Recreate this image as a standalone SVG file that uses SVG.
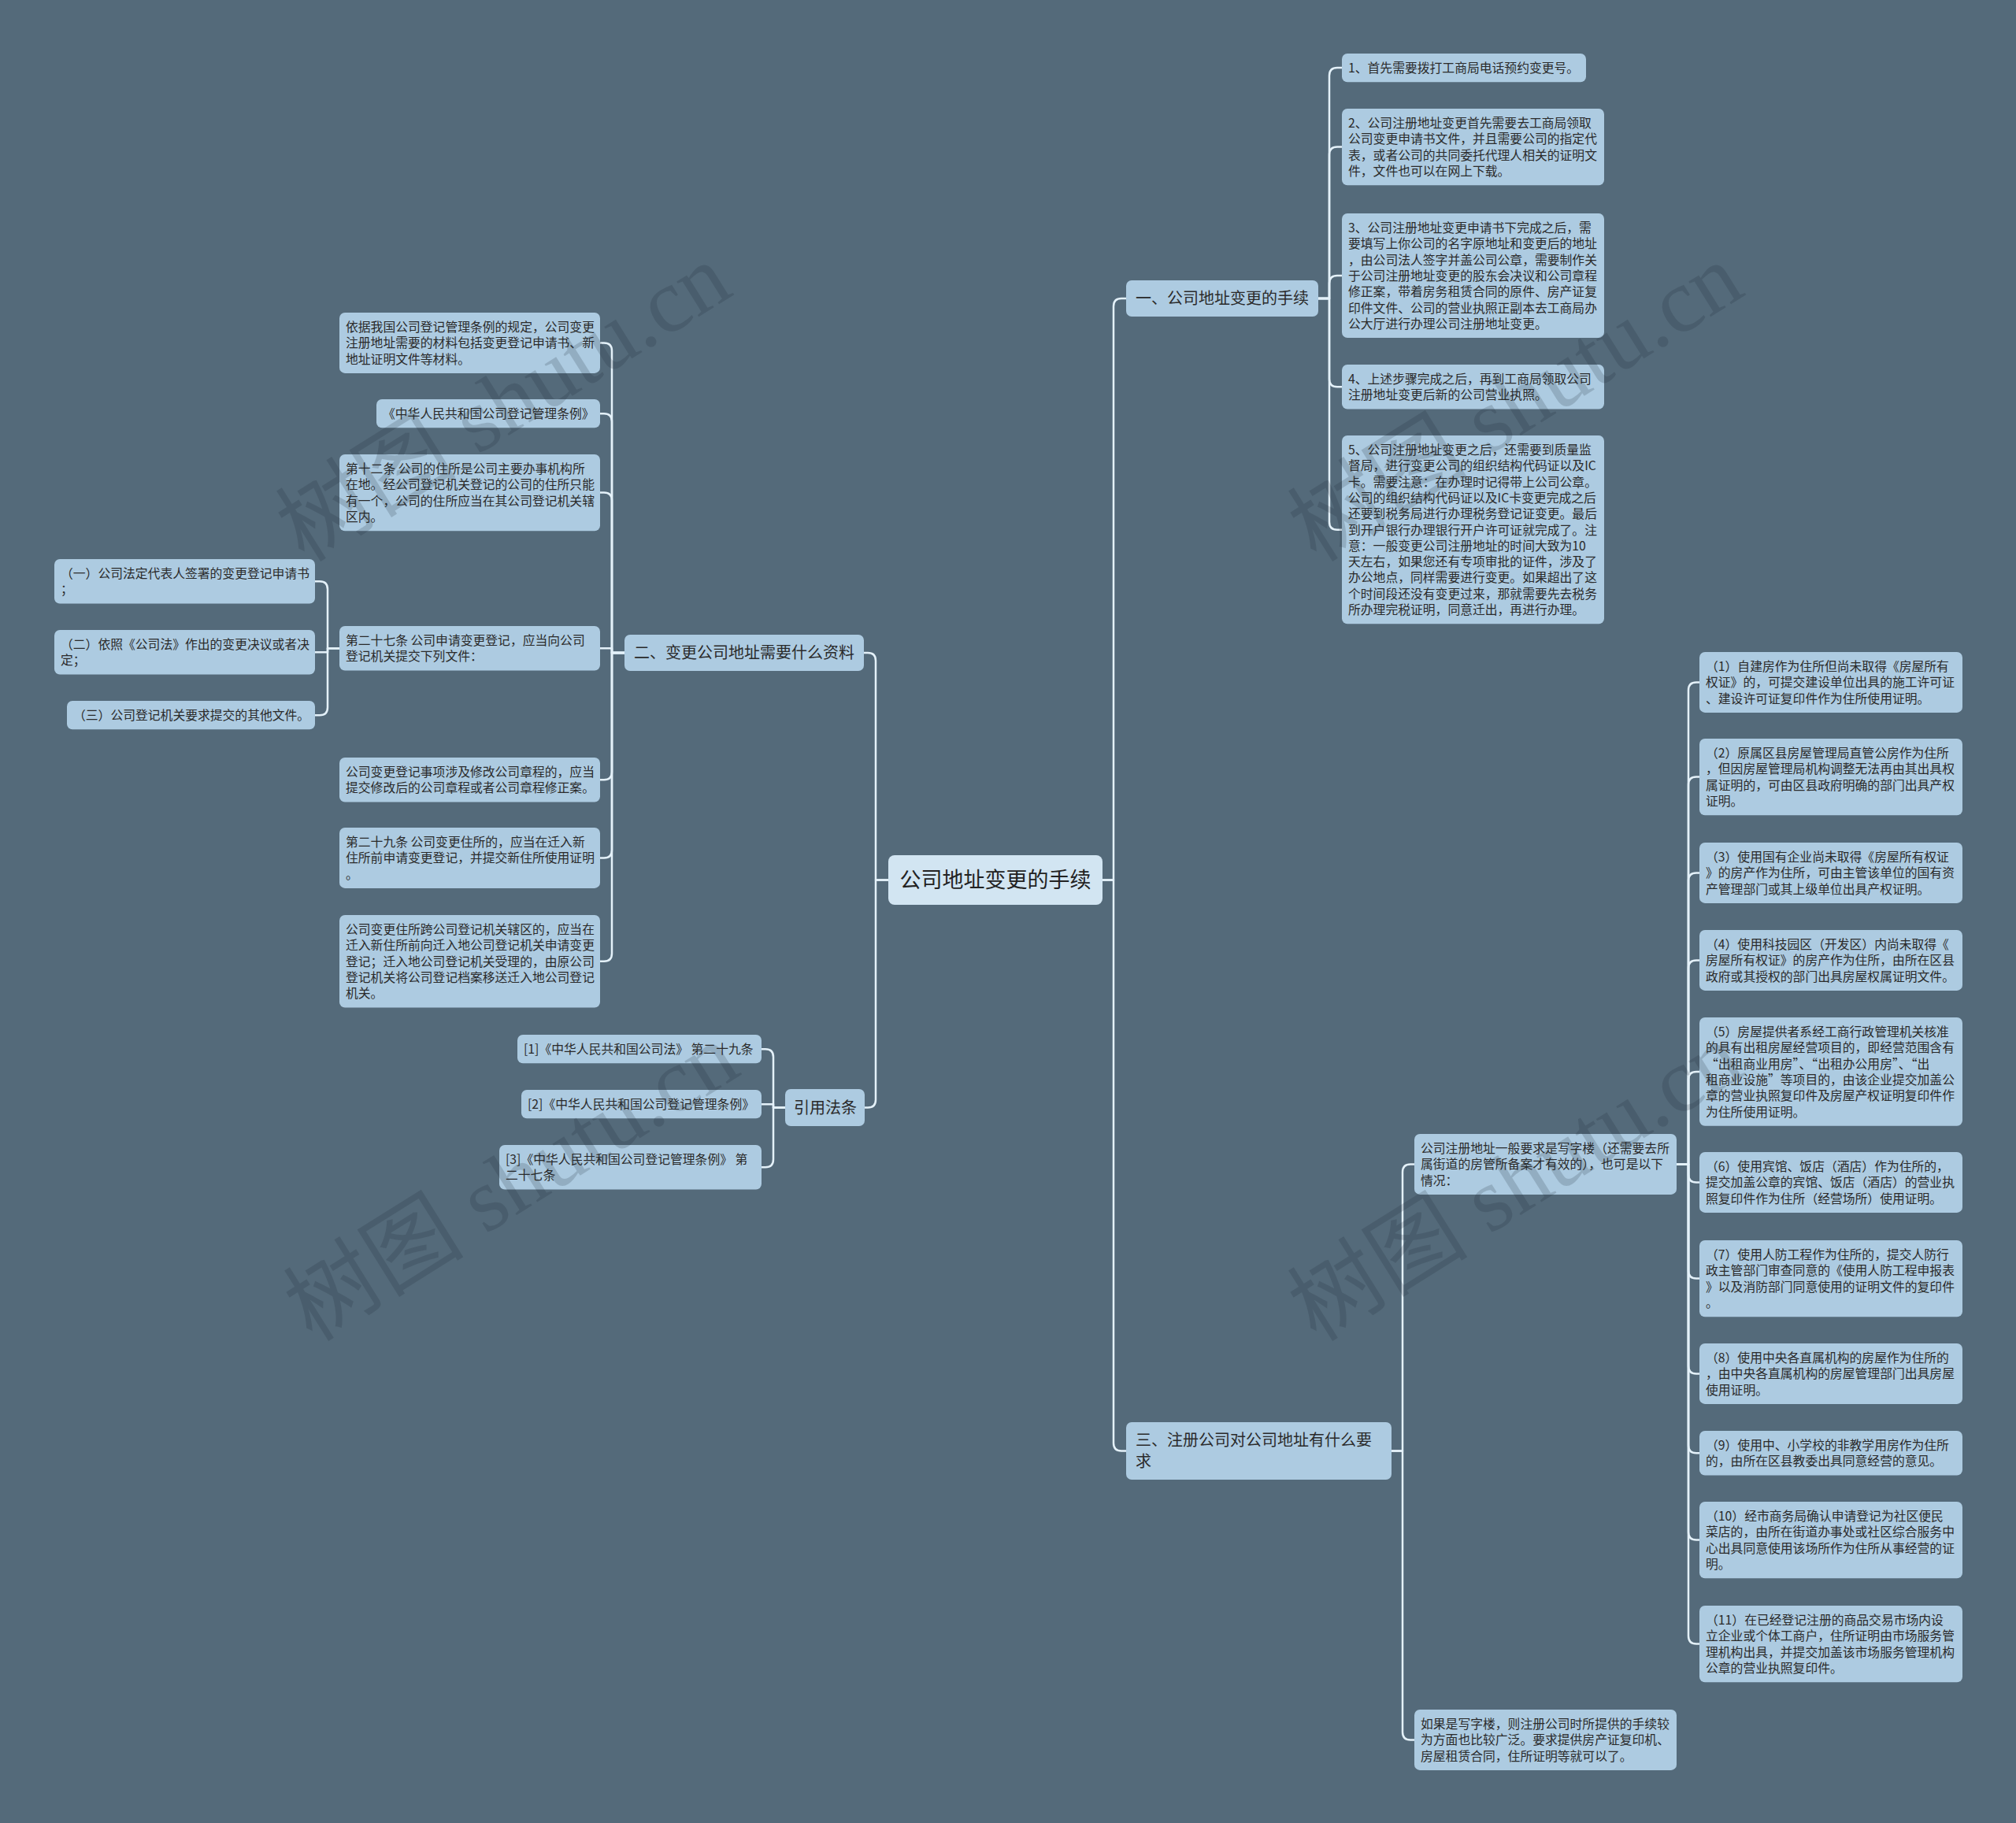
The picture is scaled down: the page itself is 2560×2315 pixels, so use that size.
<svg xmlns="http://www.w3.org/2000/svg" width="2560" height="2315" viewBox="0 0 2560 2315">
<style>
.bg{fill:#546a7a}
.box{fill:#adcbe1}
.root{fill:#d2e5f2}
.t{font-family:"Noto Sans CJK SC","Liberation Sans",sans-serif;font-size:15.8px;fill:#2a2a2a}
.tb{font-family:"Noto Sans CJK SC","Liberation Sans",sans-serif;font-size:20px;fill:#2a2a2a}
.tr{font-family:"Noto Sans CJK SC","Liberation Sans",sans-serif;font-size:27px;fill:#222}
.ln{fill:none;stroke:#e4f1f9;stroke-width:2.5;stroke-linejoin:round}
.wm{font-family:"Liberation Serif","Noto Sans CJK SC",serif;font-size:115px;fill:#1c2832;fill-opacity:0.18}
</style>
<rect class="bg" x="0" y="0" width="2560" height="2315"/>
<g id="connectors">
<path class="ln" d="M1400 1117.5 H1414 V389 Q1414 379 1424 379 H1430"/>
<path class="ln" d="M1400 1117.5 H1414 V1832.5 Q1414 1842.5 1424 1842.5 H1430"/>
<path class="ln" d="M1128 1117.5 H1112 V839 Q1112 829 1102 829 H1097"/>
<path class="ln" d="M1128 1117.5 H1112 V1396.5 Q1112 1406.5 1102 1406.5 H1098"/>
<path class="ln" d="M1674 379 H1688 V96 Q1688 86 1698 86 H1704"/>
<path class="ln" d="M1674 379 H1688 V196.6 Q1688 186.6 1698 186.6 H1704"/>
<path class="ln" d="M1674 379 H1688 V360 Q1688 350 1698 350 H1704"/>
<path class="ln" d="M1674 379 H1688 V481.3 Q1688 491.3 1698 491.3 H1704"/>
<path class="ln" d="M1674 379 H1688 V662.7 Q1688 672.7 1698 672.7 H1704"/>
<path class="ln" d="M1767 1842.5 H1781 V1488.5 Q1781 1478.5 1791 1478.5 H1796"/>
<path class="ln" d="M1767 1842.5 H1781 V2199.5 Q1781 2209.5 1791 2209.5 H1796"/>
<path class="ln" d="M2129 1478.5 H2144 V876.5 Q2144 866.5 2154 866.5 H2158"/>
<path class="ln" d="M2129 1478.5 H2144 V996.6 Q2144 986.6 2154 986.6 H2158"/>
<path class="ln" d="M2129 1478.5 H2144 V1118.5 Q2144 1108.5 2154 1108.5 H2158"/>
<path class="ln" d="M2129 1478.5 H2144 V1229.5 Q2144 1219.5 2154 1219.5 H2158"/>
<path class="ln" d="M2129 1478.5 H2144 V1370.9 Q2144 1360.9 2154 1360.9 H2158"/>
<path class="ln" d="M2129 1478.5 H2144 V1491.5 Q2144 1501.5 2154 1501.5 H2158"/>
<path class="ln" d="M2129 1478.5 H2144 V1613.6 Q2144 1623.6 2154 1623.6 H2158"/>
<path class="ln" d="M2129 1478.5 H2144 V1734.5 Q2144 1744.5 2154 1744.5 H2158"/>
<path class="ln" d="M2129 1478.5 H2144 V1835.3 Q2144 1845.3 2154 1845.3 H2158"/>
<path class="ln" d="M2129 1478.5 H2144 V1945.6 Q2144 1955.6 2154 1955.6 H2158"/>
<path class="ln" d="M2129 1478.5 H2144 V2077.6 Q2144 2087.6 2154 2087.6 H2158"/>
<path class="ln" d="M793 829 H777 V445.5 Q777 435.5 767 435.5 H762"/>
<path class="ln" d="M793 829 H777 V535.2 Q777 525.2 767 525.2 H762"/>
<path class="ln" d="M793 829 H777 V635.6 Q777 625.6 767 625.6 H762"/>
<path class="ln" d="M793 829 H777 V823.3 H762"/>
<path class="ln" d="M793 829 H777 V980.3 Q777 990.3 767 990.3 H762"/>
<path class="ln" d="M793 829 H777 V1079.5 Q777 1089.5 767 1089.5 H762"/>
<path class="ln" d="M793 829 H777 V1210.8 Q777 1220.8 767 1220.8 H762"/>
<path class="ln" d="M431 823.3 H416 V748.3 Q416 738.3 406 738.3 H400"/>
<path class="ln" d="M431 823.3 H416 V828.3 H400"/>
<path class="ln" d="M431 823.3 H416 V898.2 Q416 908.2 406 908.2 H400"/>
<path class="ln" d="M997 1406.5 H982 V1342.2 Q982 1332.2 972 1332.2 H967"/>
<path class="ln" d="M997 1406.5 H982 V1402.2 H967"/>
<path class="ln" d="M997 1406.5 H982 V1472.3 Q982 1482.3 972 1482.3 H967"/>
</g>
<g id="root"><rect class="root" x="1128" y="1086" width="272" height="63" rx="8"/><text class="tr" x="1264" y="1127" text-anchor="middle">公司地址变更的手续</text></g>
<g id="b1"><rect class="box" x="1430" y="356" width="244" height="46" rx="7"/><text class="tb" x="1442" y="386">一、公司地址变更的手续</text></g>
<g id="b3"><rect class="box" x="1430" y="1806" width="337" height="73" rx="7"/><text class="tb" x="1442" y="1836">三、注册公司对公司地址有什么要<tspan x="1442" dy="27">求</tspan></text></g>
<g id="b2"><rect class="box" x="793" y="806" width="304" height="46" rx="7"/><text class="tb" x="805" y="836">二、变更公司地址需要什么资料</text></g>
<g id="b4"><rect class="box" x="997" y="1383" width="101" height="47" rx="7"/><text class="tb" x="1008" y="1414">引用法条</text></g>

<g id="c1"><rect class="box" x="1704" y="68" width="310" height="36.3" rx="7"/><text class="t" x="1712" y="92">1、首先需要拨打工商局电话预约变更号。</text></g>
<g id="c2"><rect class="box" x="1704" y="138" width="333" height="97.2" rx="7"/><text class="t" x="1712" y="162">2、公司注册地址变更首先需要去工商局领取<tspan x="1712" dy="20.3">公司变更申请书文件，并且需要公司的指定代</tspan><tspan x="1712" dy="20.3">表，或者公司的共同委托代理人相关的证明文</tspan><tspan x="1712" dy="20.3">件，文件也可以在网上下载。</tspan></text></g>
<g id="c3"><rect class="box" x="1704" y="271" width="333" height="158.1" rx="7"/><text class="t" x="1712" y="295">3、公司注册地址变更申请书下完成之后，需<tspan x="1712" dy="20.3">要填写上你公司的名字原地址和变更后的地址</tspan><tspan x="1712" dy="20.3">，由公司法人签字并盖公司公章，需要制作关</tspan><tspan x="1712" dy="20.3">于公司注册地址变更的股东会决议和公司章程</tspan><tspan x="1712" dy="20.3">修正案，带着房务租赁合同的原件、房产证复</tspan><tspan x="1712" dy="20.3">印件文件、公司的营业执照正副本去工商局办</tspan><tspan x="1712" dy="20.3">公大厅进行办理公司注册地址变更。</tspan></text></g>
<g id="c4"><rect class="box" x="1704" y="463" width="333" height="56.6" rx="7"/><text class="t" x="1712" y="487">4、上述步骤完成之后，再到工商局领取公司<tspan x="1712" dy="20.3">注册地址变更后新的公司营业执照。</tspan></text></g>
<g id="c5"><rect class="box" x="1704" y="553" width="333" height="239.3" rx="7"/><text class="t" x="1712" y="577">5、公司注册地址变更之后，还需要到质量监<tspan x="1712" dy="20.3">督局，进行变更公司的组织结构代码证以及IC</tspan><tspan x="1712" dy="20.3">卡。需要注意：在办理时记得带上公司公章。</tspan><tspan x="1712" dy="20.3">公司的组织结构代码证以及IC卡变更完成之后</tspan><tspan x="1712" dy="20.3">还要到税务局进行办理税务登记证变更。最后</tspan><tspan x="1712" dy="20.3">到开户银行办理银行开户许可证就完成了。注</tspan><tspan x="1712" dy="20.3">意：一般变更公司注册地址的时间大致为10</tspan><tspan x="1712" dy="20.3">天左右，如果您还有专项审批的证件，涉及了</tspan><tspan x="1712" dy="20.3">办公地点，同样需要进行变更。如果超出了这</tspan><tspan x="1712" dy="20.3">个时间段还没有变更过来，那就需要先去税务</tspan><tspan x="1712" dy="20.3">所办理完税证明，同意迁出，再进行办理。</tspan></text></g>

<g id="a"><rect class="box" x="1796" y="1440" width="333" height="76.9" rx="7"/><text class="t" x="1804" y="1464">公司注册地址一般要求是写字楼（还需要去所<tspan x="1804" dy="20.3">属街道的房管所备案才有效的），也可是以下</tspan><tspan x="1804" dy="20.3">情况：</tspan></text></g>
<g id="b"><rect class="box" x="1796" y="2171" width="333" height="76.9" rx="7"/><text class="t" x="1804" y="2195">如果是写字楼，则注册公司时所提供的手续较<tspan x="1804" dy="20.3">为方面也比较广泛。要求提供房产证复印机、</tspan><tspan x="1804" dy="20.3">房屋租赁合同，住所证明等就可以了。</tspan></text></g>

<g id="r1"><rect class="box" x="2158" y="828" width="334" height="76.9" rx="7"/><text class="t" x="2166" y="852">（1）自建房作为住所但尚未取得《房屋所有<tspan x="2166" dy="20.3">权证》的，可提交建设单位出具的施工许可证</tspan><tspan x="2166" dy="20.3">、建设许可证复印件作为住所使用证明。</tspan></text></g>
<g id="r2"><rect class="box" x="2158" y="938" width="334" height="97.2" rx="7"/><text class="t" x="2166" y="962">（2）原属区县房屋管理局直管公房作为住所<tspan x="2166" dy="20.3">，但因房屋管理局机构调整无法再由其出具权</tspan><tspan x="2166" dy="20.3">属证明的，可由区县政府明确的部门出具产权</tspan><tspan x="2166" dy="20.3">证明。</tspan></text></g>
<g id="r3"><rect class="box" x="2158" y="1070" width="334" height="76.9" rx="7"/><text class="t" x="2166" y="1094">（3）使用国有企业尚未取得《房屋所有权证<tspan x="2166" dy="20.3">》的房产作为住所，可由主管该单位的国有资</tspan><tspan x="2166" dy="20.3">产管理部门或其上级单位出具产权证明。</tspan></text></g>
<g id="r4"><rect class="box" x="2158" y="1181" width="334" height="76.9" rx="7"/><text class="t" x="2166" y="1205">（4）使用科技园区（开发区）内尚未取得《<tspan x="2166" dy="20.3">房屋所有权证》的房产作为住所，由所在区县</tspan><tspan x="2166" dy="20.3">政府或其授权的部门出具房屋权属证明文件。</tspan></text></g>
<g id="r5"><rect class="box" x="2158" y="1292" width="334" height="137.8" rx="7"/><text class="t" x="2166" y="1316">（5）房屋提供者系经工商行政管理机关核准<tspan x="2166" dy="20.3">的具有出租房屋经营项目的，即经营范围含有</tspan><tspan x="2166" dy="20.3">“出租商业用房”、“出租办公用房”、“出</tspan><tspan x="2166" dy="20.3">租商业设施”等项目的，由该企业提交加盖公</tspan><tspan x="2166" dy="20.3">章的营业执照复印件及房屋产权证明复印件作</tspan><tspan x="2166" dy="20.3">为住所使用证明。</tspan></text></g>
<g id="r6"><rect class="box" x="2158" y="1463" width="334" height="76.9" rx="7"/><text class="t" x="2166" y="1487">（6）使用宾馆、饭店（酒店）作为住所的，<tspan x="2166" dy="20.3">提交加盖公章的宾馆、饭店（酒店）的营业执</tspan><tspan x="2166" dy="20.3">照复印件作为住所（经营场所）使用证明。</tspan></text></g>
<g id="r7"><rect class="box" x="2158" y="1575" width="334" height="97.2" rx="7"/><text class="t" x="2166" y="1599">（7）使用人防工程作为住所的，提交人防行<tspan x="2166" dy="20.3">政主管部门审查同意的《使用人防工程申报表</tspan><tspan x="2166" dy="20.3">》以及消防部门同意使用的证明文件的复印件</tspan><tspan x="2166" dy="20.3">。</tspan></text></g>
<g id="r8"><rect class="box" x="2158" y="1706" width="334" height="76.9" rx="7"/><text class="t" x="2166" y="1730">（8）使用中央各直属机构的房屋作为住所的<tspan x="2166" dy="20.3">，由中央各直属机构的房屋管理部门出具房屋</tspan><tspan x="2166" dy="20.3">使用证明。</tspan></text></g>
<g id="r9"><rect class="box" x="2158" y="1817" width="334" height="56.6" rx="7"/><text class="t" x="2166" y="1841">（9）使用中、小学校的非教学用房作为住所<tspan x="2166" dy="20.3">的，由所在区县教委出具同意经营的意见。</tspan></text></g>
<g id="r10"><rect class="box" x="2158" y="1907" width="334" height="97.2" rx="7"/><text class="t" x="2166" y="1931">（10）经市商务局确认申请登记为社区便民<tspan x="2166" dy="20.3">菜店的，由所在街道办事处或社区综合服务中</tspan><tspan x="2166" dy="20.3">心出具同意使用该场所作为住所从事经营的证</tspan><tspan x="2166" dy="20.3">明。</tspan></text></g>
<g id="r11"><rect class="box" x="2158" y="2039" width="334" height="97.2" rx="7"/><text class="t" x="2166" y="2063">（11）在已经登记注册的商品交易市场内设<tspan x="2166" dy="20.3">立企业或个体工商户，住所证明由市场服务管</tspan><tspan x="2166" dy="20.3">理机构出具，并提交加盖该市场服务管理机构</tspan><tspan x="2166" dy="20.3">公章的营业执照复印件。</tspan></text></g>

<g id="d1"><rect class="box" x="431" y="397" width="331" height="76.9" rx="7"/><text class="t" x="439" y="421">依据我国公司登记管理条例的规定，公司变更<tspan x="439" dy="20.3">注册地址需要的材料包括变更登记申请书、新</tspan><tspan x="439" dy="20.3">地址证明文件等材料。</tspan></text></g>
<g id="d2"><rect class="box" x="478" y="507" width="284" height="36.3" rx="7"/><text class="t" x="486" y="531">《中华人民共和国公司登记管理条例》</text></g>
<g id="d3"><rect class="box" x="431" y="577" width="331" height="97.2" rx="7"/><text class="t" x="439" y="601">第十二条 公司的住所是公司主要办事机构所<tspan x="439" dy="20.3">在地。经公司登记机关登记的公司的住所只能</tspan><tspan x="439" dy="20.3">有一个，公司的住所应当在其公司登记机关辖</tspan><tspan x="439" dy="20.3">区内。</tspan></text></g>
<g id="d4"><rect class="box" x="431" y="795" width="331" height="56.6" rx="7"/><text class="t" x="439" y="819">第二十七条 公司申请变更登记，应当向公司<tspan x="439" dy="20.3">登记机关提交下列文件：</tspan></text></g>
<g id="d5"><rect class="box" x="431" y="962" width="331" height="56.6" rx="7"/><text class="t" x="439" y="986">公司变更登记事项涉及修改公司章程的，应当<tspan x="439" dy="20.3">提交修改后的公司章程或者公司章程修正案。</tspan></text></g>
<g id="d6"><rect class="box" x="431" y="1051" width="331" height="76.9" rx="7"/><text class="t" x="439" y="1075">第二十九条 公司变更住所的，应当在迁入新<tspan x="439" dy="20.3">住所前申请变更登记，并提交新住所使用证明</tspan><tspan x="439" dy="20.3">。</tspan></text></g>
<g id="d7"><rect class="box" x="431" y="1162" width="331" height="117.5" rx="7"/><text class="t" x="439" y="1186">公司变更住所跨公司登记机关辖区的，应当在<tspan x="439" dy="20.3">迁入新住所前向迁入地公司登记机关申请变更</tspan><tspan x="439" dy="20.3">登记；迁入地公司登记机关受理的，由原公司</tspan><tspan x="439" dy="20.3">登记机关将公司登记档案移送迁入地公司登记</tspan><tspan x="439" dy="20.3">机关。</tspan></text></g>

<g id="e1"><rect class="box" x="69" y="710" width="331" height="56.6" rx="7"/><text class="t" x="77" y="734">（一）公司法定代表人签署的变更登记申请书<tspan x="77" dy="20.3">；</tspan></text></g>
<g id="e2"><rect class="box" x="69" y="800" width="331" height="56.6" rx="7"/><text class="t" x="77" y="824">（二）依照《公司法》作出的变更决议或者决<tspan x="77" dy="20.3">定；</tspan></text></g>
<g id="e3"><rect class="box" x="85" y="890" width="315" height="36.3" rx="7"/><text class="t" x="93" y="914">（三）公司登记机关要求提交的其他文件。</text></g>

<g id="f1"><rect class="box" x="657" y="1314" width="310" height="36.3" rx="7"/><text class="t" x="665" y="1338">[1]《中华人民共和国公司法》 第二十九条</text></g>
<g id="f2"><rect class="box" x="662" y="1384" width="305" height="36.3" rx="7"/><text class="t" x="670" y="1408">[2]《中华人民共和国公司登记管理条例》</text></g>
<g id="f3"><rect class="box" x="634" y="1454" width="333" height="56.6" rx="7"/><text class="t" x="642" y="1478">[3]《中华人民共和国公司登记管理条例》 第<tspan x="642" dy="20.3">二十七条</tspan></text></g>

<g id="watermarks">
<text class="wm" x="640" y="550" text-anchor="middle" transform="rotate(-32 640 512)">树图 shutu.cn</text>
<text class="wm" x="1925" y="550" text-anchor="middle" transform="rotate(-32 1925 512)">树图 shutu.cn</text>
<text class="wm" x="650" y="1540" text-anchor="middle" transform="rotate(-32 650 1502)">树图 shutu.cn</text>
<text class="wm" x="1925" y="1540" text-anchor="middle" transform="rotate(-32 1925 1502)">树图 shutu.cn</text>
</g>
</svg>
